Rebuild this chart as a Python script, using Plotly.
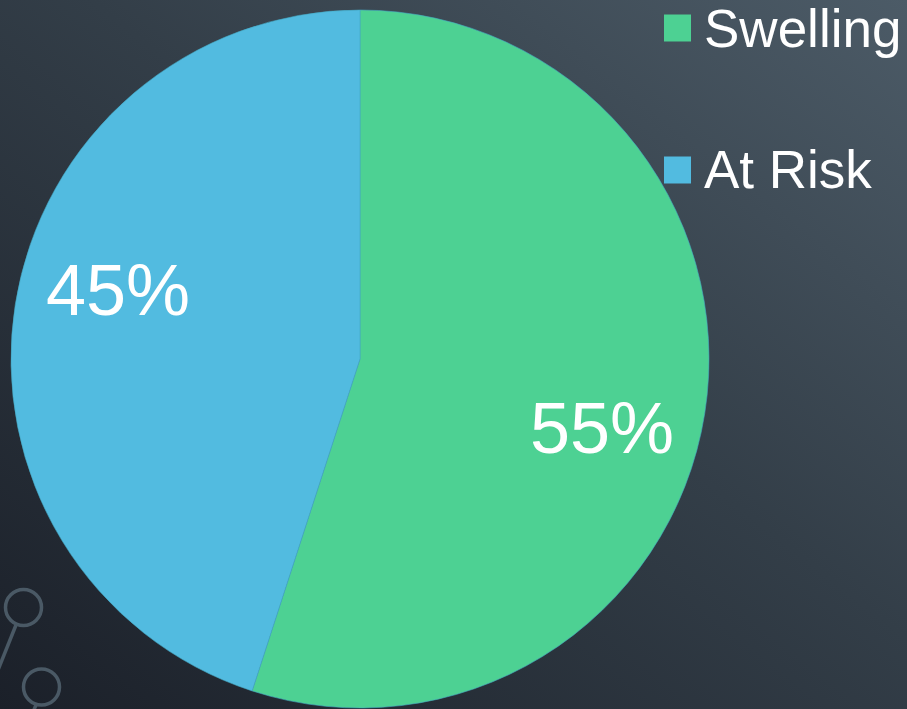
"""
Pie chart: Swelling vs At Risk, dark slate slide background.
"""

import base64
import math

import plotly.graph_objects as go

W, H = 907, 709

labels = ["Swelling", "At Risk"]
values = [55, 45]
colors = ["#4dd193", "#52bbe0"]

FONT = "Liberation Sans, Arial, sans-serif"
DECOR = "#4a5965"

# geometria del pastel en pixeles
CX, CY, R = 360, 359, 349


def px_x(x):
    return x / W


def px_y(y):
    return 1 - y / H


# fondo degradado (esquina sup. derecha clara -> inf. izquierda oscura)
_svg = f"""<svg xmlns="http://www.w3.org/2000/svg" width="{W}" height="{H}" preserveAspectRatio="none">
<defs><linearGradient id="g" x1="1" y1="0" x2="0" y2="1">
<stop offset="0" stop-color="#4c5b67"/>
<stop offset="0.45" stop-color="#333e48"/>
<stop offset="1" stop-color="#1b2029"/>
</linearGradient></defs>
<rect width="100%" height="100%" fill="url(#g)"/></svg>"""
_bg = "data:image/svg+xml;base64," + base64.b64encode(_svg.encode()).decode()

fig = go.Figure(
    go.Pie(
        labels=labels,
        values=values,
        marker=dict(colors=colors, line=dict(color="#45a9c4", width=0.6)),
        sort=False,
        direction="clockwise",
        rotation=0,
        textinfo="none",
        domain=dict(x=[px_x(CX - R), px_x(CX + R)], y=[px_y(CY + R), px_y(CY - R)]),
        showlegend=False,
        hoverinfo="label+percent",
    )
)

shapes = []
annotations = []

# etiquetas de porcentaje, colocadas a ~0.72 r como en la diapositiva
total = sum(values)
acc = 0
for v in values:
    ang = math.radians((acc + v / 2) / total * 360 + 7)
    acc += v
    annotations.append(dict(
        text=f"{round(100 * v / total)}%", xref="paper", yref="paper",
        x=px_x(CX + 0.72 * R * math.sin(ang)), y=px_y(CY - 0.72 * R * math.cos(ang)),
        xanchor="center", yanchor="middle", showarrow=False,
        font=dict(family=FONT, size=72, color="#ffffff"),
    ))

# leyenda manual (espaciado grande como en la diapositiva)
for i, (lab, col) in enumerate(zip(labels, colors)):
    yc = 28 + i * 142
    shapes.append(dict(
        type="rect", xref="paper", yref="paper",
        x0=px_x(664), x1=px_x(691), y0=px_y(yc + 13.5), y1=px_y(yc - 13.5),
        fillcolor=col, line=dict(width=0),
    ))
    annotations.append(dict(
        text=lab, xref="paper", yref="paper", x=px_x(702), y=px_y(yc),
        xanchor="left", yanchor="middle", showarrow=False,
        font=dict(family=FONT, size=53, color="#ffffff"),
    ))

# adornos del tema (circulos y lineas abajo a la izquierda)
for cx, cy, r in [(23.5, 607.5, 18), (41.5, 687, 18)]:
    shapes.append(dict(
        type="circle", xref="paper", yref="paper",
        x0=px_x(cx - r), x1=px_x(cx + r), y0=px_y(cy + r), y1=px_y(cy - r),
        line=dict(color=DECOR, width=3.5),
    ))
for x0, y0, x1, y1 in [(16, 625, -2, 670), (36, 705, 33, 712)]:
    shapes.append(dict(
        type="line", xref="paper", yref="paper",
        x0=px_x(x0), y0=px_y(y0), x1=px_x(x1), y1=px_y(y1),
        line=dict(color=DECOR, width=3.5),
    ))

fig.update_layout(
    width=W,
    height=H,
    margin=dict(l=0, r=0, t=0, b=0),
    paper_bgcolor="#333e48",
    plot_bgcolor="rgba(0,0,0,0)",
    font=dict(family=FONT, color="#ffffff"),
    images=[dict(
        source=_bg, xref="paper", yref="paper", x=0, y=1,
        sizex=1, sizey=1, sizing="stretch", layer="below",
        xanchor="left", yanchor="top",
    )],
    shapes=shapes,
    annotations=annotations,
)

fig.write_html(
    "out.html",
    config={"displayModeBar": False},
    post_script="document.body.style.margin='0';document.body.style.overflow='hidden';",
)
